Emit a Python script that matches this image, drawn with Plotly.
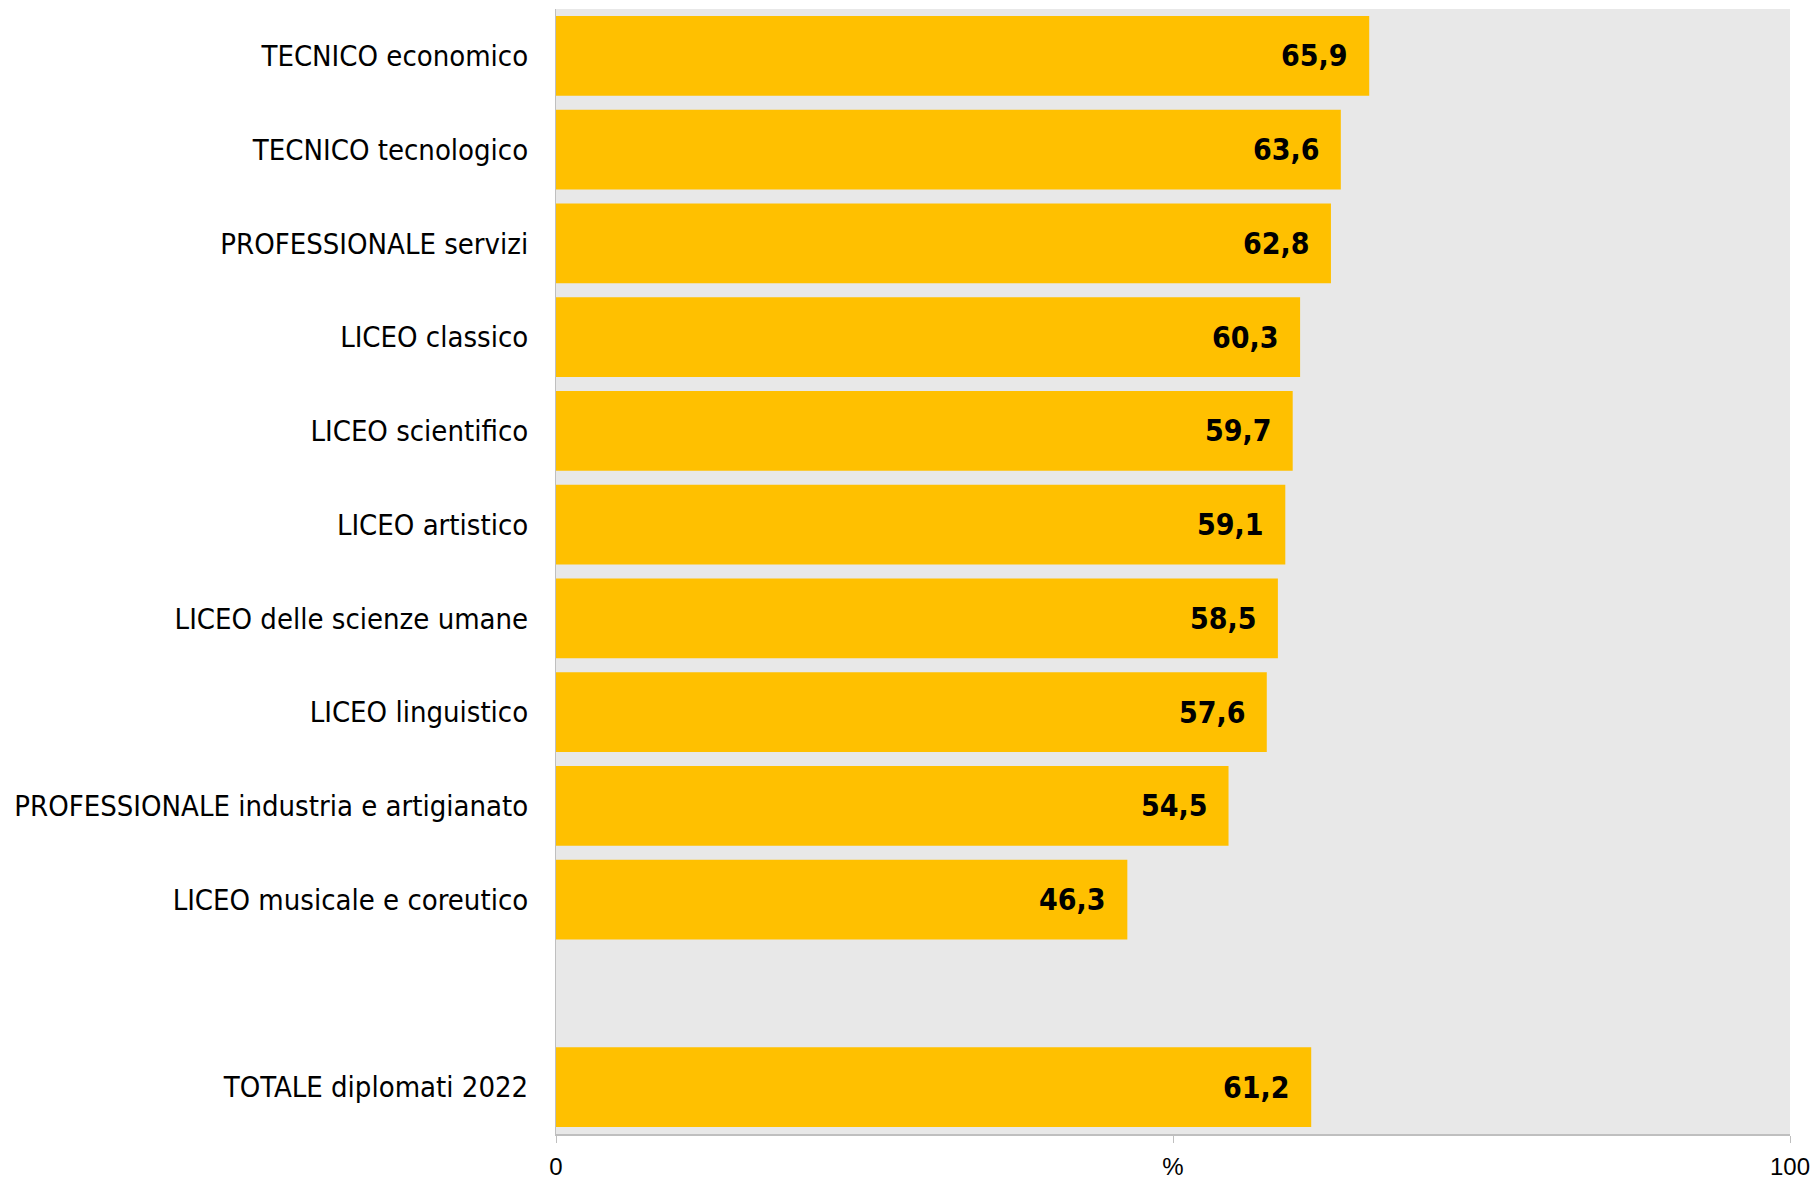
import plotly.graph_objects as go

categories = [
    "TECNICO economico",
    "TECNICO tecnologico",
    "PROFESSIONALE servizi",
    "LICEO classico",
    "LICEO scientifico",
    "LICEO artistico",
    "LICEO delle scienze umane",
    "LICEO linguistico",
    "PROFESSIONALE industria e artigianato",
    "LICEO musicale e coreutico",
    " ",
    "TOTALE diplomati 2022",
]
values = [65.9, 63.6, 62.8, 60.3, 59.7, 59.1, 58.5, 57.6, 54.5, 46.3, None, 61.2]
x_tickvals = [0, 50, 100]
x_ticktext = ["0", "%", "100"]

FONT = "DejaVu Sans Condensed"
TICKFONT = "Liberation Sans"

fig = go.Figure()
fig.add_trace(go.Bar(
    x=values, y=categories, orientation="h",
    marker=dict(color="#FFC000", line=dict(width=0)),
    width=0.85,
    hoverinfo="x+y",
))

for c, v in zip(categories, values):
    if v is None:
        continue
    fig.add_annotation(
        x=v, y=c, xref="x", yref="y",
        text="<b>" + f"{v:.1f}".replace(".", ",") + "</b>",
        showarrow=False, xanchor="right", yanchor="middle", xshift=-19,
        font=dict(family=FONT, size=30, color="#000000"),
    )

fig.update_layout(
    width=1815, height=1179,
    margin=dict(l=556, r=25, t=9, b=45),
    paper_bgcolor="white", plot_bgcolor="#E8E8E8",
    showlegend=False, bargap=0.15,
    font=dict(family=FONT, size=29, color="#000000"),
)
fig.update_yaxes(
    type="category", categoryorder="array", categoryarray=categories,
    autorange="reversed", showgrid=False, zeroline=False,
    showline=True, linecolor="#BFBFBF", linewidth=1,
    ticks="", ticklabelstandoff=21, automargin=False,
    tickfont=dict(family=FONT, size=29, color="#000000"),
)
fig.update_xaxes(
    range=[0, 100], tickvals=x_tickvals, ticktext=x_ticktext,
    showgrid=False, zeroline=False,
    showline=True, linecolor="#BFBFBF", linewidth=2,
    ticks="outside", ticklen=7, tickcolor="#BFBFBF", tickwidth=1,
    ticklabelstandoff=3, automargin=False, ticklabeloverflow="allow",
    tickfont=dict(family=TICKFONT, size=24, color="#000000"),
)

fig.write_html(
    "out.html",
    config={"displayModeBar": False},
    post_script="document.body.style.margin='0';document.body.style.overflow='hidden';",
)
